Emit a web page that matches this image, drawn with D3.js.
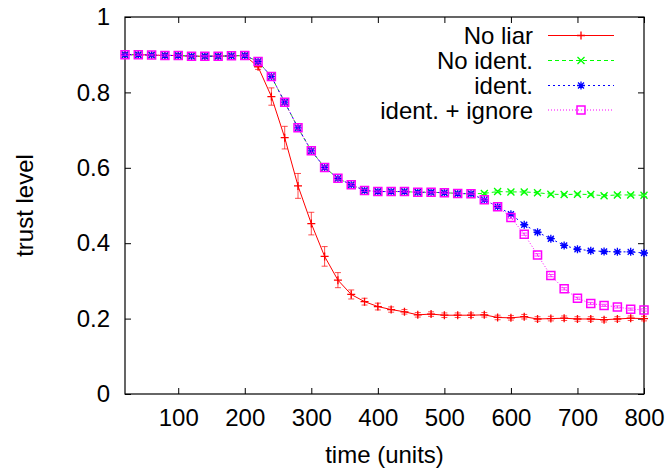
<!DOCTYPE html>
<html>
<head>
<meta charset="utf-8">
<script src="https://cdn.jsdelivr.net/npm/d3@7"></script>
<style>
  body { margin: 0; background: #fff; }
  svg { display: block; font-family: "Liberation Sans", Arial, Helvetica, sans-serif; }
</style>
</head>
<body>
<div id="chart"></div>
<script>
const WIDTH = 668;
const HEIGHT = 472;
const margin = { top: 17, right: 24, bottom: 78, left: 125 };

// time steps (units)
const time = [20, 40, 60, 80, 100, 120, 140, 160, 180, 200,
  220, 240, 260, 280, 300, 320, 340, 360, 380, 400,
  420, 440, 460, 480, 500, 520, 540, 560, 580, 600,
  620, 640, 660, 680, 700, 720, 740, 760, 780, 800];

const noLiar = [0.900, 0.900, 0.899, 0.898, 0.898, 0.896, 0.896, 0.896, 0.897, 0.898,
  0.868, 0.789, 0.680, 0.552, 0.452, 0.365, 0.302, 0.264, 0.245, 0.232,
  0.224, 0.218, 0.210, 0.212, 0.209, 0.209, 0.209, 0.210, 0.203, 0.202,
  0.205, 0.199, 0.200, 0.201, 0.199, 0.199, 0.197, 0.199, 0.201, 0.200];
const noLiarErr = [0.003, 0.003, 0.003, 0.003, 0.003, 0.003, 0.003, 0.003, 0.003, 0.003,
  0.007, 0.023, 0.030, 0.033, 0.030, 0.026, 0.020, 0.012, 0.009, 0.009,
  0.007, 0.006, 0.006, 0.006, 0.006, 0.006, 0.006, 0.006, 0.006, 0.006,
  0.006, 0.006, 0.006, 0.006, 0.006, 0.006, 0.006, 0.006, 0.006, 0.006];

const noIdent = [0.900, 0.900, 0.899, 0.898, 0.898, 0.896, 0.896, 0.896, 0.897, 0.898,
  0.882, 0.842, 0.774, 0.706, 0.645, 0.601, 0.572, 0.555, 0.540, 0.537,
  0.537, 0.537, 0.535, 0.535, 0.534, 0.532, 0.531, 0.532, 0.537, 0.536,
  0.536, 0.534, 0.530, 0.529, 0.530, 0.529, 0.526, 0.528, 0.528, 0.527];
const ident = [0.900, 0.900, 0.899, 0.898, 0.898, 0.896, 0.896, 0.896, 0.897, 0.898,
  0.882, 0.842, 0.774, 0.706, 0.645, 0.601, 0.572, 0.555, 0.540, 0.537,
  0.537, 0.537, 0.535, 0.535, 0.534, 0.532, 0.531, 0.515, 0.497, 0.477,
  0.449, 0.429, 0.412, 0.394, 0.384, 0.380, 0.378, 0.377, 0.377, 0.374];
const identIgnore = [0.900, 0.900, 0.899, 0.898, 0.898, 0.896, 0.896, 0.896, 0.897, 0.898,
  0.882, 0.842, 0.774, 0.706, 0.645, 0.601, 0.572, 0.555, 0.540, 0.537,
  0.537, 0.537, 0.535, 0.535, 0.534, 0.532, 0.531, 0.515, 0.497, 0.468,
  0.424, 0.369, 0.314, 0.279, 0.254, 0.240, 0.235, 0.231, 0.225, 0.223];
// the three ident-type runs share the same small spread
const identErr = [0.002, 0.002, 0.002, 0.002, 0.002, 0.002, 0.002, 0.002, 0.002, 0.002,
  0.004, 0.005, 0.005, 0.005, 0.005, 0.004, 0.004, 0.003, 0.003, 0.002,
  0.002, 0.002, 0.002, 0.002, 0.002, 0.002, 0.002, 0.003, 0.003, 0.003,
  0.003, 0.003, 0.003, 0.003, 0.003, 0.003, 0.003, 0.003, 0.003, 0.003];

const seriesNames = ["No liar", "No ident.", "ident.", "ident. + ignore"];
const xTicks = [100, 200, 300, 400, 500, 600, 700, 800];
const yTicks = [0, 0.2, 0.4, 0.6, 0.8, 1];

const series = [
  { name: seriesNames[0], values: noLiar, err: noLiarErr, color: "#ff0000", dash: null, marker: "plus" },
  { name: seriesNames[1], values: noIdent, err: identErr, color: "#00ff00", dash: "4,3", marker: "cross" },
  { name: seriesNames[2], values: ident, err: identErr, color: "#0000ff", dash: "2,3", marker: "star" },
  { name: seriesNames[3], values: identIgnore, err: identErr, color: "#ff00ff", dash: "1,2", marker: "square" }
];

const MARKERS = {
  plus: "M-4,0H4M0,-4V4",
  cross: "M-3.5,-3.5L3.5,3.5M-3.5,3.5L3.5,-3.5",
  star: "M-4,0H4M0,-4V4M-3,-3L3,3M-3,3L3,-3",
  square: "M-4,-4H4V4H-4Z"
};

const svg = d3.select("#chart").append("svg")
  .attr("width", WIDTH)
  .attr("height", HEIGHT);

const x = d3.scaleLinear().domain([20, 800]).range([margin.left, WIDTH - margin.right]);
const y = d3.scaleLinear().domain([0, 1]).range([HEIGHT - margin.bottom, margin.top]);

const FONT = 24;
const TICK = 6;

// frame
svg.append("rect")
  .attr("x", x.range()[0]).attr("y", y.range()[1])
  .attr("width", x.range()[1] - x.range()[0])
  .attr("height", y.range()[0] - y.range()[1])
  .attr("fill", "none").attr("stroke", "#000").attr("stroke-width", 1.2);

// axes (ticks pointing inward, mirrored on top and right)
const xAxis = svg.append("g")
  .attr("transform", `translate(0,${y(0)})`)
  .call(d3.axisBottom(x).tickValues(xTicks).tickSize(-TICK).tickPadding(15));
const xAxisTop = svg.append("g")
  .attr("transform", `translate(0,${y(1)})`)
  .call(d3.axisTop(x).tickValues(xTicks).tickSize(-TICK).tickFormat(""));
const yAxis = svg.append("g")
  .attr("transform", `translate(${x(20)},0)`)
  .call(d3.axisLeft(y).tickValues(yTicks).tickSize(-TICK).tickPadding(15).tickFormat(d3.format("")));
const yAxisRight = svg.append("g")
  .attr("transform", `translate(${x(800)},0)`)
  .call(d3.axisRight(y).tickValues(yTicks).tickSize(-TICK).tickFormat(""));

[xAxis, xAxisTop, yAxis, yAxisRight].forEach(a => {
  a.select(".domain").remove();
  a.selectAll(".tick line").attr("stroke", "#000").attr("stroke-width", 1);
  a.selectAll("text").attr("font-size", FONT).attr("font-family", null).attr("fill", "#000");
});
xAxis.selectAll("text").attr("dy", "0.71em");

// axis titles
svg.append("text")
  .attr("x", (x.range()[0] + x.range()[1]) / 2)
  .attr("y", 463)
  .attr("text-anchor", "middle")
  .attr("font-size", FONT)
  .text("time (units)");

svg.append("text")
  .attr("transform", `translate(33,${(y.range()[0] + y.range()[1]) / 2}) rotate(-90)`)
  .attr("text-anchor", "middle")
  .attr("font-size", FONT)
  .text("trust level");

// data
const line = d3.line()
  .x((d, i) => x(time[i]))
  .y(d => y(d));

const plot = svg.append("g");

series.forEach(s => {
  const g = plot.append("g");

  g.append("path")
    .datum(s.values)
    .attr("d", line)
    .attr("fill", "none")
    .attr("stroke", s.color)
    .attr("stroke-width", 1)
    .attr("stroke-dasharray", s.dash);

  // error bars
  g.append("g").selectAll("path")
    .data(s.values)
    .enter()
    .append("path")
    .attr("d", (d, i) => {
      const cx = x(time[i]);
      const lo = y(d - s.err[i]);
      const hi = y(d + s.err[i]);
      return `M${cx},${lo}V${hi}M${cx - 3},${lo}H${cx + 3}M${cx - 3},${hi}H${cx + 3}`;
    })
    .attr("fill", "none")
    .attr("stroke", s.color)
    .attr("stroke-opacity", 0.7)
    .attr("stroke-width", 1);

  g.append("g").selectAll("path")
    .data(s.values)
    .enter()
    .append("path")
    .attr("transform", (d, i) => `translate(${x(time[i])},${y(d)})`)
    .attr("d", MARKERS[s.marker])
    .attr("fill", "none")
    .attr("stroke", s.color)
    .attr("stroke-width", s.marker === "square" ? 1.5 : 1.3);
});

// legend
const legend = svg.append("g");
const LEGEND_ROW = [35.5, 60.5, 85.5, 110];

series.forEach((s, i) => {
  const ly = LEGEND_ROW[i];
  legend.append("text")
    .attr("x", 533)
    .attr("y", ly)
    .attr("dy", "0.36em")
    .attr("text-anchor", "end")
    .attr("font-size", FONT)
    .text(s.name);
  legend.append("line")
    .attr("x1", 548).attr("x2", 614)
    .attr("y1", ly).attr("y2", ly)
    .attr("stroke", s.color)
    .attr("stroke-width", 1)
    .attr("stroke-dasharray", s.dash);
  legend.append("path")
    .attr("transform", `translate(581,${ly})`)
    .attr("d", MARKERS[s.marker])
    .attr("fill", "none")
    .attr("stroke", s.color)
    .attr("stroke-width", s.marker === "square" ? 1.5 : 1.3);
});
</script>
</body>
</html>
